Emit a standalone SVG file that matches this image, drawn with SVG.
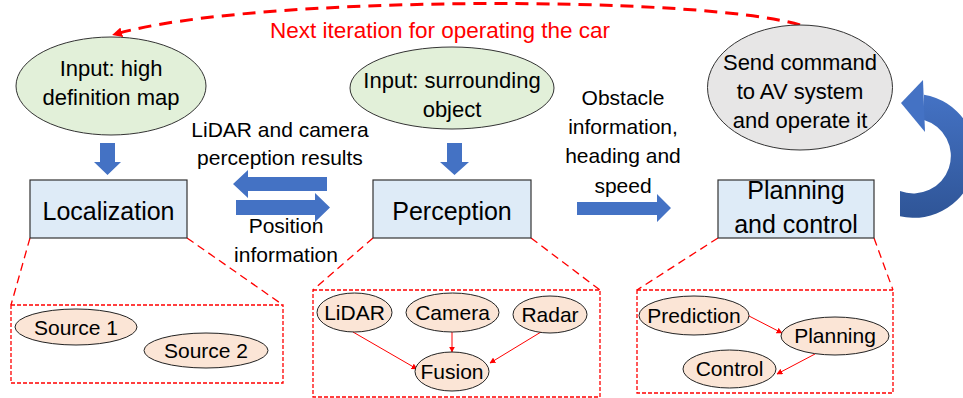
<svg xmlns="http://www.w3.org/2000/svg" width="963" height="398" viewBox="0 0 963 398">
  <defs>
    <style>
      text { font-family: "Liberation Sans", Arial, sans-serif; fill: #000; text-anchor: middle; }
      .lbl { font-size: 21px; }
      .ell { font-size: 22px; }
      .box { font-size: 25px; }
      .sm { font-size: 21px; }
      .red { fill: #FF0000; font-size: 22.5px; }
      .input { fill: #E2F0D9; stroke: #333; stroke-width: 1; }
      .cmd { fill: #E7E6E6; stroke: #333; stroke-width: 1; }
      .stage { fill: #DEEBF7; stroke: #333; stroke-width: 1.2; }
      .sub { fill: #FBE5D6; stroke: #222; stroke-width: 1; }
      .block { fill: #4472C4; }
      .zoom { fill: none; stroke: #FF0000; stroke-width: 1.3; stroke-dasharray: 8 5; }
      .frame { fill: none; stroke: #FF0000; stroke-width: 1.3; stroke-dasharray: 4 2; }
      .thin { fill: none; stroke: #FF0000; stroke-width: 1; marker-end: url(#tip); }
      .loop { fill: none; stroke: #FF0000; stroke-width: 3; stroke-dasharray: 13 8; marker-end: url(#bigtip); }
    </style>
    <marker id="tip" viewBox="0 0 10 10" refX="9" refY="5" markerWidth="6" markerHeight="6" markerUnits="userSpaceOnUse" orient="auto">
      <path d="M0,0 L10,5 L0,10 z" fill="#FF0000"/>
    </marker>
    <marker id="bigtip" viewBox="0 0 10 10" refX="6" refY="5" markerWidth="10" markerHeight="10" markerUnits="userSpaceOnUse" orient="auto">
      <path d="M0,0 L10,5 L0,10 z" fill="#FF0000"/>
    </marker>
    <linearGradient id="loopFill" x1="0" y1="0" x2="0" y2="1">
      <stop offset="0" stop-color="#4472C4"/>
      <stop offset="1" stop-color="#2F5597"/>
    </linearGradient>
  </defs>

  <!-- connectors: feedback loop, block arrows, zoom-in guides, sub-flow arrows -->
  <g id="connectors">
    <path class="loop" d="M800,25 C700,-5 250,-5 116,34"/>
    <text class="red" x="440" y="38">Next iteration for operating the car</text>

    <polygon class="block" points="100,143 115,143 115,162 121,162 107.5,175 94,162 100,162"/>
    <polygon class="block" points="447,143 462,143 462,162 469,162 454.5,175 440,162 447,162"/>
    <polygon class="block" points="327,177 248,177 248,170 233,184 248,198 248,191 327,191"/>
    <polygon class="block" points="236,200 315,200 315,193 330,207.5 315,222 315,215 236,215"/>
    <polygon class="block" points="577,202 657,202 657,194 671,208 657,222 657,215 577,215"/>

    <!-- curved return arrow on the right edge (centre 912,155.5; radii 62 / 37.5) -->
    <path fill="url(#loopFill)" d="M900,216.3 A62,62 0 1 0 924,94.7 L924,120 A37.5,37.5 0 1 1 900,191 Z"/>
    <polygon fill="#4472C4" points="901,103 923,80 925,132"/>

    <text class="lbl" x="280" y="137">LiDAR and camera</text>
    <text class="lbl" x="280" y="165">perception results</text>
    <text class="lbl" x="286" y="233">Position</text>
    <text class="lbl" x="286" y="262">information</text>
    <text class="lbl" x="623" y="105">Obstacle</text>
    <text class="lbl" x="623" y="134">information,</text>
    <text class="lbl" x="623" y="163">heading and</text>
    <text class="lbl" x="623" y="193">speed</text>

    <line class="zoom" x1="30" y1="238" x2="11" y2="305"/>
    <line class="zoom" x1="187" y1="238" x2="283" y2="305"/>
    <line class="zoom" x1="373" y1="238" x2="313" y2="290"/>
    <line class="zoom" x1="531" y1="238" x2="600" y2="290"/>
    <line class="zoom" x1="718" y1="238" x2="637" y2="290"/>
    <line class="zoom" x1="874" y1="238" x2="893" y2="290"/>

    <line class="thin" x1="353" y1="332" x2="417" y2="369"/>
    <line class="thin" x1="452" y1="332" x2="452" y2="352"/>
    <line class="thin" x1="541" y1="332" x2="490" y2="363"/>
    <line class="thin" x1="749" y1="316" x2="782" y2="333"/>
    <line class="thin" x1="815" y1="354" x2="777" y2="374"/>
  </g>

  <g id="input-map">
    <ellipse class="input" cx="111" cy="86" rx="95" ry="49"/>
    <text class="ell" x="111" y="76">Input: high</text>
    <text class="ell" x="111" y="105">definition map</text>
  </g>

  <g id="input-objects">
    <ellipse class="input" cx="452" cy="88" rx="102" ry="41"/>
    <text class="ell" x="452" y="88">Input: surrounding</text>
    <text class="ell" x="452" y="117">object</text>
  </g>

  <g id="send-command">
    <ellipse class="cmd" cx="800" cy="87.5" rx="92.5" ry="62.5"/>
    <text class="ell" x="800" y="70">Send command</text>
    <text class="ell" x="800" y="99">to AV system</text>
    <text class="ell" x="800" y="128">and operate it</text>
  </g>

  <g id="localization">
    <rect class="stage" x="30" y="180" width="157" height="58"/>
    <text class="box" x="108.5" y="220">Localization</text>
  </g>

  <g id="perception">
    <rect class="stage" x="373" y="180" width="158" height="58"/>
    <text class="box" x="452" y="220">Perception</text>
  </g>

  <g id="planning-control">
    <rect class="stage" x="718" y="180" width="156" height="58"/>
    <text class="box" x="796" y="199">Planning</text>
    <text class="box" x="796" y="233">and control</text>
  </g>

  <g id="localization-detail">
    <rect class="frame" x="11" y="305" width="272" height="78"/>
    <g id="source-1">
      <ellipse class="sub" cx="76" cy="327" rx="61" ry="18"/>
      <text class="sm" x="76" y="335">Source 1</text>
    </g>
    <g id="source-2">
      <ellipse class="sub" cx="206" cy="350.5" rx="62" ry="17.5"/>
      <text class="sm" x="206" y="358">Source 2</text>
    </g>
  </g>

  <g id="perception-detail">
    <rect class="frame" x="313" y="290" width="287" height="107"/>
    <g id="lidar">
      <ellipse class="sub" cx="354.5" cy="312.5" rx="37.5" ry="19.5"/>
      <text class="sm" x="354.5" y="320">LiDAR</text>
    </g>
    <g id="camera">
      <ellipse class="sub" cx="452.5" cy="312.5" rx="46.5" ry="19.5"/>
      <text class="sm" x="452.5" y="320">Camera</text>
    </g>
    <g id="radar">
      <ellipse class="sub" cx="550" cy="314.5" rx="37" ry="18.5"/>
      <text class="sm" x="550" y="322">Radar</text>
    </g>
    <g id="fusion">
      <ellipse class="sub" cx="452" cy="371.5" rx="37" ry="19.5"/>
      <text class="sm" x="452" y="379">Fusion</text>
    </g>
  </g>

  <g id="planning-detail">
    <rect class="frame" x="637" y="290" width="256" height="103"/>
    <g id="prediction">
      <ellipse class="sub" cx="694" cy="315.5" rx="55" ry="19.5"/>
      <text class="sm" x="694" y="323">Prediction</text>
    </g>
    <g id="planning">
      <ellipse class="sub" cx="835" cy="336" rx="54" ry="19"/>
      <text class="sm" x="835" y="343">Planning</text>
    </g>
    <g id="control">
      <ellipse class="sub" cx="729.5" cy="369" rx="46.5" ry="19"/>
      <text class="sm" x="729.5" y="376">Control</text>
    </g>
  </g>
</svg>
